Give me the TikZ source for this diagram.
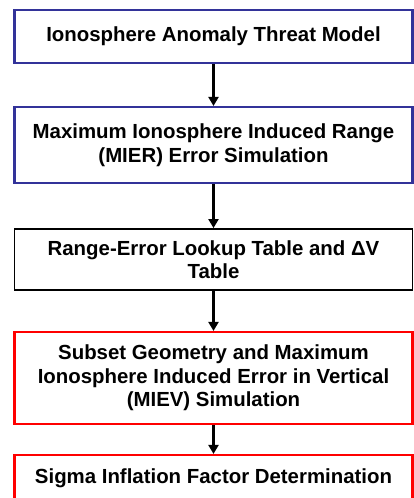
\documentclass[tikz,border=0pt]{standalone}
\usepackage{fontspec}
\setmainfont{Liberation Sans}
\usetikzlibrary{arrows.meta}
\definecolor{boxblue}{RGB}{51,51,153}
\definecolor{boxred}{RGB}{255,0,0}
\tikzset{
  flowbox/.style={draw, line width=2.2pt, minimum width=398pt, inner sep=0pt, align=center,
    font=\fontsize{20.4}{23.5}\selectfont\bfseries, text=black, fill=white},
  bluebox/.style={flowbox, draw=boxblue},
  blackbox/.style={flowbox, draw=black, line width=1.8pt},
  redbox/.style={flowbox, draw=boxred},
  flowarrow/.style={line width=2.2pt, -{Triangle[length=9pt,width=10pt]}}
}
\begin{document}
\begin{tikzpicture}[x=1pt,y=-1pt]
\useasboundingbox (0,0) rectangle (414,498);
\clip (0,0) rectangle (414,498);
\node[bluebox, minimum height=53pt] (b1) at (213.5,36.5) {Ionosphere Anomaly Threat Model};
\node[bluebox, minimum height=76pt] (b2) at (213.5,145) {Maximum Ionosphere Induced Range\\(MIER) Error Simulation};
\node[blackbox, minimum height=61pt] (b3) at (213.5,259.5) {Range-Error Lookup Table and ΔV\\Table};
\node[redbox, minimum height=92pt] (b4) at (213.5,378) {Subset Geometry and Maximum\\Ionosphere Induced Error in Vertical\\(MIEV) Simulation};
\node[redbox, minimum height=46pt] (b5) at (213.5,478) {Sigma Inflation Factor Determination};
\draw[flowarrow] (b1) -- (b2);
\draw[flowarrow] (b2) -- (b3);
\draw[flowarrow] (b3) -- (b4);
\draw[flowarrow] (b4) -- (b5);
\end{tikzpicture}
\end{document}
